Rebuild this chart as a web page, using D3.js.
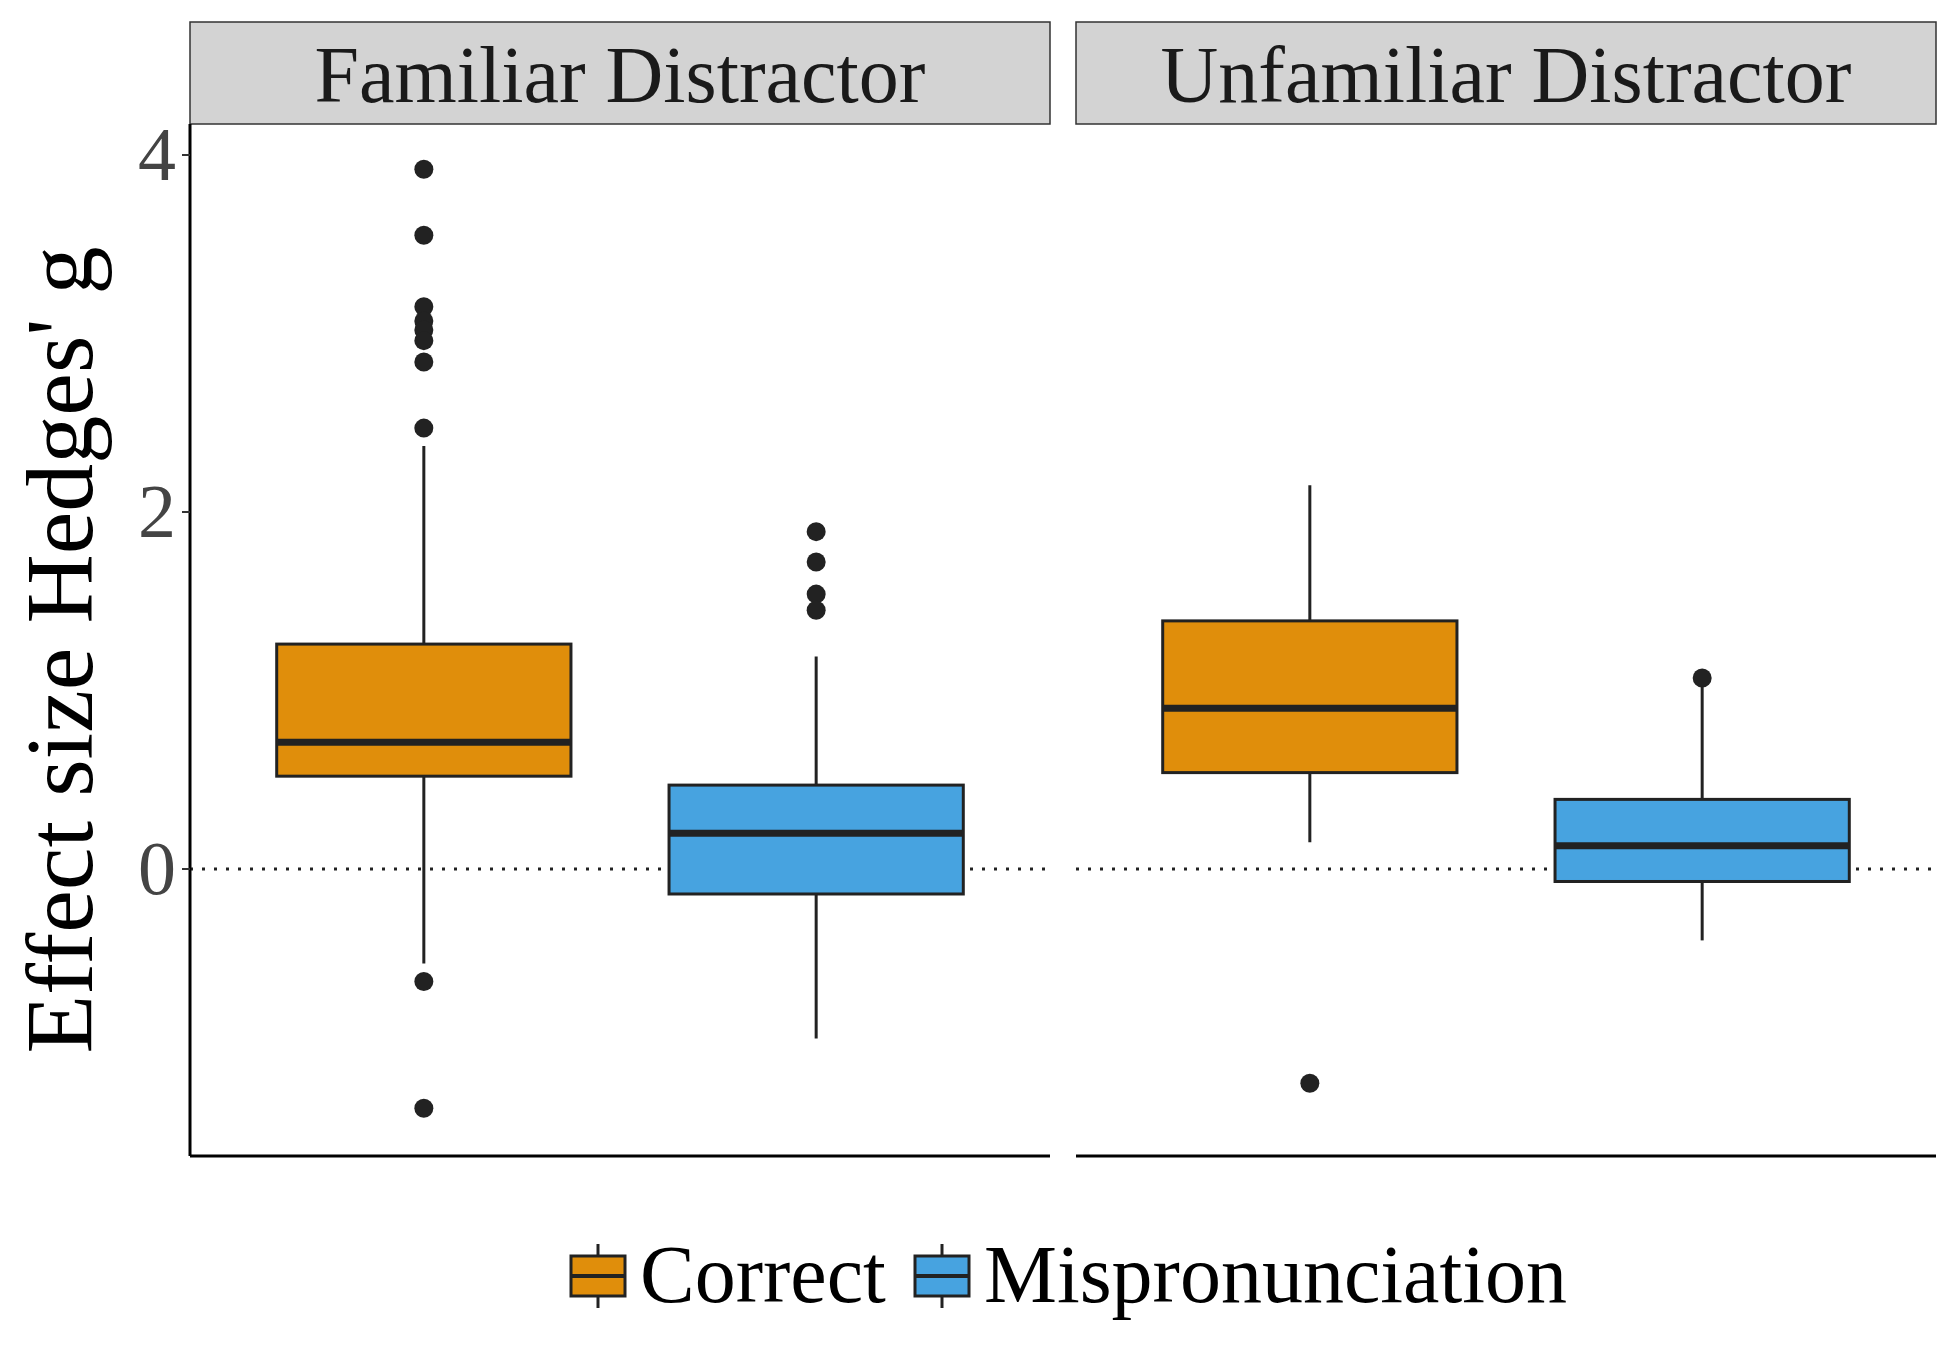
<!DOCTYPE html>
<html><head><meta charset="utf-8">
<script src="https://cdn.jsdelivr.net/npm/d3@7"></script>
<style>body{margin:0;background:#fff}text{font-family:"Liberation Serif","DejaVu Serif",serif}</style>
</head><body><svg id="chart" width="1950" height="1350"></svg>
<script>
// data
var panels = ["Familiar Distractor", "Unfamiliar Distractor"];
var conditions = ["Correct", "Mispronunciation"];
var colors = ["#E08E0B", "#47A3E0"];
var yTicks = [0, 2, 4];
// per panel, per condition: [lowWhisker, q1, median, q3, highWhisker]
var famStats = [[-0.53, 0.52, 0.71, 1.26, 2.37], [-0.95, -0.14, 0.20, 0.47, 1.19]];
var unfStats = [[0.15, 0.54, 0.90, 1.39, 2.15], [-0.40, -0.07, 0.13, 0.39, 1.02]];
var famOutliers = [[3.92, 3.55, 3.15, 3.07, 3.02, 2.96, 2.84, 2.47, -0.63, -1.34], [1.89, 1.72, 1.54, 1.45]];
var unfOutliers = [[-1.20], [1.07]];
var allStats = [famStats, unfStats];
var allOutliers = [famOutliers, unfOutliers];

var svg = d3.select("#chart");
var panelX = [190, 1076], panelW = 860, plotTop = 124, plotBottom = 1156;
var y = d3.scaleLinear().domain([0, 4]).range([869, 155]);
var x = d3.scalePoint().domain(conditions).range([0, panelW]).padding(0.596);
var boxW = x.step() * 0.75;
var ink = "#222";

panels.forEach(function(p, i){
  var g = svg.append("g").attr("transform", "translate(" + panelX[i] + ",0)");
  g.append("rect").attr("x", 0).attr("y", 22).attr("width", panelW).attr("height", plotTop - 22)
    .attr("fill", "#d3d3d3").attr("stroke", "#333").attr("stroke-width", 1.5);
  g.append("text").attr("x", panelW / 2).attr("y", 102).attr("text-anchor", "middle")
    .attr("font-size", 80).attr("fill", "#1a1a1a").text(p);
  g.append("line").attr("x1", 0).attr("x2", panelW).attr("y1", y(0)).attr("y2", y(0))
    .attr("stroke", ink).attr("stroke-width", 3).attr("stroke-dasharray", "3,9");
  conditions.forEach(function(c, j){
    var s = allStats[i][j], cx = x(c);
    g.append("line").attr("x1", cx).attr("x2", cx).attr("y1", y(s[0])).attr("y2", y(s[4]))
      .attr("stroke", ink).attr("stroke-width", 3);
    g.append("rect").attr("x", cx - boxW / 2).attr("width", boxW)
      .attr("y", y(s[3])).attr("height", y(s[1]) - y(s[3]))
      .attr("fill", colors[j]).attr("stroke", ink).attr("stroke-width", 3);
    g.append("line").attr("x1", cx - boxW / 2).attr("x2", cx + boxW / 2).attr("y1", y(s[2])).attr("y2", y(s[2]))
      .attr("stroke", ink).attr("stroke-width", 7);
    g.selectAll(null).data(allOutliers[i][j]).enter().append("circle")
      .attr("cx", cx).attr("cy", function(d){ return y(d); }).attr("r", 9.5).attr("fill", ink);
  });
  g.append("line").attr("x1", 0).attr("x2", panelW).attr("y1", plotBottom).attr("y2", plotBottom)
    .attr("stroke", "#000").attr("stroke-width", 3);
});

// y axis
var ya = svg.append("g").attr("transform", "translate(" + panelX[0] + ",0)");
ya.append("line").attr("x1", 0).attr("x2", 0).attr("y1", plotTop).attr("y2", plotBottom).attr("stroke", "#000").attr("stroke-width", 3);
yTicks.forEach(function(t){
  ya.append("line").attr("x1", -8).attr("x2", 0).attr("y1", y(t)).attr("y2", y(t)).attr("stroke", "#333").attr("stroke-width", 2);
  ya.append("text").attr("x", -14).attr("y", y(t) + 25).attr("text-anchor", "end")
    .attr("font-size", 76).attr("fill", "#444").text(t);
});
svg.append("text").attr("transform", "translate(92," + ((plotTop + plotBottom) / 2 + 10) + ") rotate(-90)")
  .attr("text-anchor", "middle").attr("font-size", 96).attr("fill", "#000").text("Effect size Hedges' g");

// legend
var leg = svg.append("g").attr("transform", "translate(570,1276)");
var offs = [0, 344];
conditions.forEach(function(c, j){
  var lg = leg.append("g").attr("transform", "translate(" + offs[j] + ",0)");
  lg.append("line").attr("x1", 28).attr("x2", 28).attr("y1", -32).attr("y2", 32).attr("stroke", ink).attr("stroke-width", 3);
  lg.append("rect").attr("x", 1).attr("y", -20).attr("width", 54).attr("height", 40)
    .attr("fill", colors[j]).attr("stroke", ink).attr("stroke-width", 3);
  lg.append("line").attr("x1", 1).attr("x2", 55).attr("y1", 0).attr("y2", 0).attr("stroke", ink).attr("stroke-width", 4);
  lg.append("text").attr("x", 70).attr("y", 26).attr("font-size", 82).attr("fill", "#000").text(c);
});
</script></body></html>
